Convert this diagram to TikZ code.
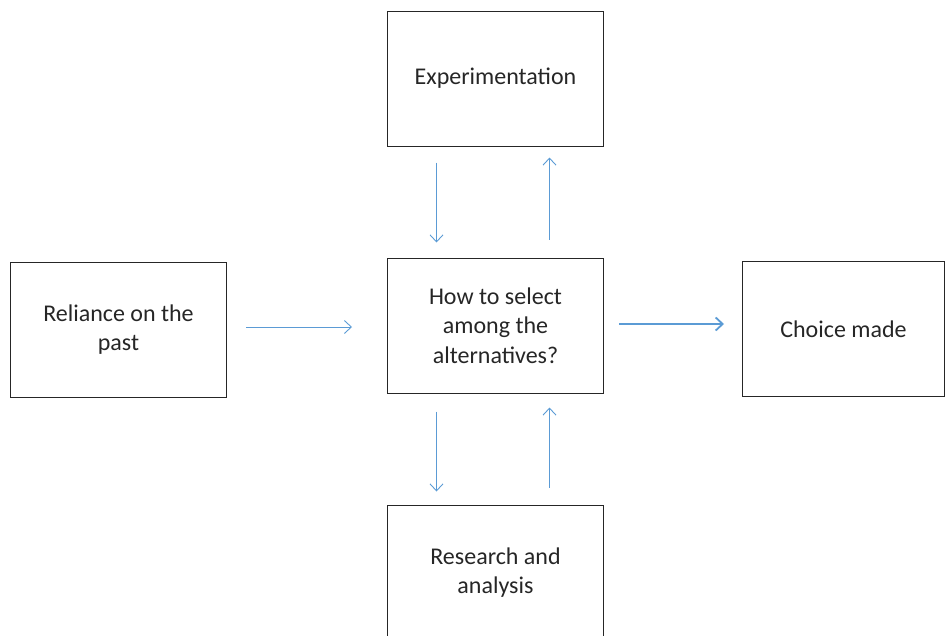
\documentclass[tikz,border=0pt]{standalone}
\usepackage{fontspec}
\setmainfont{Carlito}
\usepackage{tikz}
\usetikzlibrary{positioning,arrows.meta}
\definecolor{pijlblauw}{RGB}{91,155,213}
\tikzset{>={Straight Barb[length=7pt,width=13pt]}}

\begin{document}
\begin{tikzpicture}[x=1pt,y=1pt,node distance=111pt,
                    blok/.style={draw=black!85,line width=1pt,minimum width=216pt,minimum height=135pt,align=center,text=black!85,font=\fontsize{24}{29.5}\selectfont},
                    pijl/.style={->,draw=pijlblauw,line width=0.9pt},
       ]
       \clip (0,0) rectangle (945,-635);
       \node[blok] (selectie) at (495.5,-325.5) {How to select\\among the\\alternatives?};
        \node[blok,above=of selectie] (experiment) {Experimentation};
        \node[blok,below=of selectie] (onderzoek) {Research and\\analysis};
        \node[blok,left=160pt of selectie,yshift=-4pt] (verleden) {Reliance on the\\past};
        \node[blok,right=138pt of selectie,yshift=-3.5pt,minimum width=202pt] (keuze) {Choice made};
        \draw[pijl,shorten <=19pt,shorten >=35pt] (verleden.east |- 0,-327) -- (selectie.west |- 0,-327);
        \draw[pijl,line width=1.8pt,shorten <=15pt,shorten >=18pt] (selectie.east |- 0,-324) -- (keuze.west |- 0,-324);
        \draw[pijl,shorten <=16pt,shorten >=15pt] ([xshift=-59pt]experiment.south) -- ([xshift=-59pt]selectie.north);
        \draw[pijl,shorten <=18pt,shorten >=11pt] ([xshift=54pt]selectie.north) -- ([xshift=54pt]experiment.south);
        \draw[pijl,shorten <=18pt,shorten >=13pt] ([xshift=-59pt]selectie.south) -- ([xshift=-59pt]onderzoek.north);
        \draw[pijl,shorten <=17pt,shorten >=14pt] ([xshift=54pt]onderzoek.north) -- ([xshift=54pt]selectie.south);
    \end{tikzpicture}
\end{document}
